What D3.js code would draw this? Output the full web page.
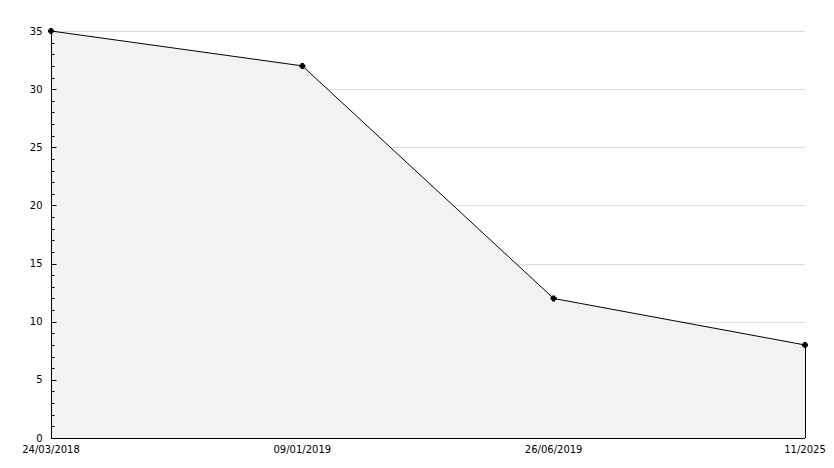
<!DOCTYPE html>
<meta charset="utf-8">
<head>
<script src="https://d3js.org/d3.v7.min.js"></script>
<style>
  body { margin: 0; background: #fff; }
  text { font-family: "DejaVu Sans", sans-serif; font-size: 10px; fill: #000; }
</style>
</head>
<body>
<svg id="chart" width="834" height="468"></svg>
<script>
// data
var dates = ["24/03/2018", "09/01/2019", "26/06/2019", "11/2025"];
var counts = [35, 32, 12, 8];
var yTicks = [0, 5, 10, 15, 20, 25, 30, 35];

var svg = d3.select("#chart");
var margin = {left: 51, right: 29, top: 31, bottom: 30};
var width = 834 - margin.left - margin.right,
    height = 468 - margin.top - margin.bottom;

var g = svg.append("g")
  .attr("transform", "translate(" + margin.left + "," + margin.top + ")");

var x = d3.scalePoint().domain(dates).range([0, width]);
var y = d3.scaleLinear().domain([0, 35]).range([height, 0]);

var rows = dates.map(function(d, i) { return {date: d, value: counts[i]}; });

// grid
g.selectAll(".grid")
  .data(yTicks.filter(function(t) { return t > 0; }))
  .enter().append("line")
    .attr("x1", 0).attr("x2", width)
    .attr("y1", function(d) { return Math.round(y(d)) + 0.5; })
    .attr("y2", function(d) { return Math.round(y(d)) + 0.5; })
    .attr("stroke", "#dddddd");

// area
var area = d3.area()
  .x(function(d) { return x(d.date); })
  .y0(height)
  .y1(function(d) { return y(d.value); });

g.append("path")
  .datum(rows)
  .attr("d", area)
  .attr("fill", "#f2f2f2")
  .attr("stroke", "none");

// right edge of the area
g.append("line")
  .attr("x1", width + 0.5).attr("x2", width + 0.5)
  .attr("y1", y(counts[counts.length - 1])).attr("y2", height)
  .attr("stroke", "#000");

// line
g.append("path")
  .datum(rows)
  .attr("d", d3.line().x(function(d) { return x(d.date); }).y(function(d) { return y(d.value); }))
  .attr("fill", "none")
  .attr("stroke", "#000")
  .attr("stroke-width", 1);

// y axis: minor ticks every 1, major every 5, drawn inside
var yAxis = g.append("g").attr("transform", "translate(0.5,0)");
yAxis.append("line")
  .attr("x1", 0).attr("x2", 0)
  .attr("y1", 0).attr("y2", height)
  .attr("stroke", "#000");
yAxis.selectAll(".minor")
  .data(d3.range(0, 36))
  .enter().append("line")
    .attr("x1", 0)
    .attr("x2", function(d) { return d % 5 === 0 ? 5 : 3; })
    .attr("y1", function(d) { return Math.round(y(d)) + 0.5; })
    .attr("y2", function(d) { return Math.round(y(d)) + 0.5; })
    .attr("stroke", "#000");
yAxis.selectAll(".lbl")
  .data(yTicks)
  .enter().append("text")
    .attr("x", -9)
    .attr("y", function(d) { return y(d); })
    .attr("dy", "0.35em")
    .attr("text-anchor", "end")
    .text(function(d) { return d; });

// x axis
g.append("line")
  .attr("x1", 0).attr("x2", width)
  .attr("y1", height + 0.5).attr("y2", height + 0.5)
  .attr("stroke", "#000");
g.selectAll(".xlbl")
  .data(dates)
  .enter().append("text")
    .attr("x", function(d) { return x(d); })
    .attr("y", height + 15)
    .attr("text-anchor", "middle")
    .text(function(d) { return d; });

// markers
g.selectAll(".pt")
  .data(rows)
  .enter().append("path")
    .attr("transform", function(d) { return "translate(" + x(d.date) + "," + y(d.value) + ")"; })
    .attr("d", "M-1.5,-3H1.5V-1.5H3V1.5H1.5V3H-1.5V1.5H-3V-1.5H-1.5Z")
    .attr("fill", "#000");
</script>
</body>
</html>
